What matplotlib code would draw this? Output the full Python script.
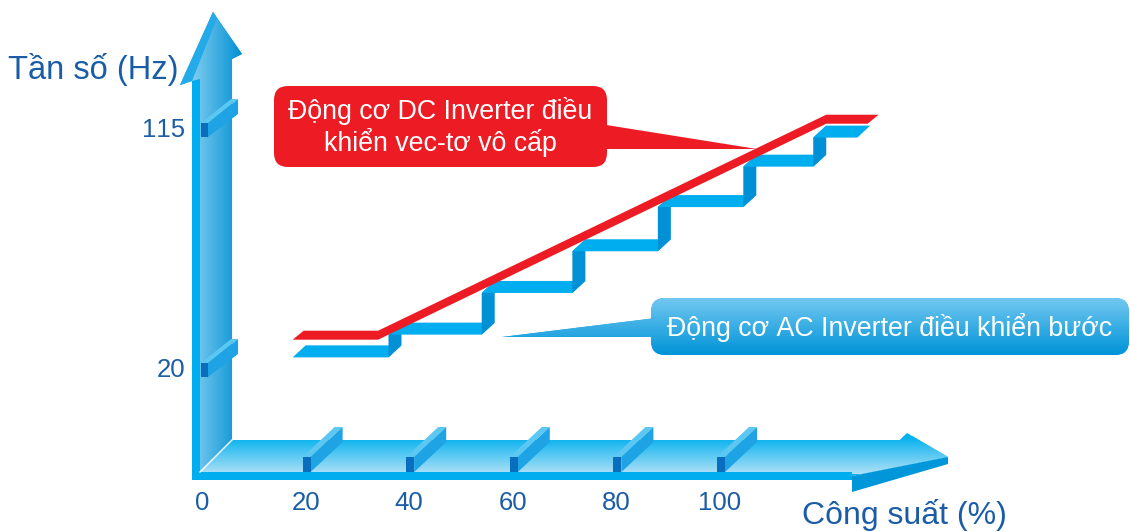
import numpy as np
import matplotlib
matplotlib.use("Agg")
import matplotlib.pyplot as plt
import matplotlib.transforms as mtransforms
from matplotlib.patches import Polygon, FancyBboxPatch
from matplotlib.colors import LinearSegmentedColormap

plt.rcParams['font.family'] = ['Liberation Sans', 'DejaVu Sans']
plt.rcParams['text.kerning_factor'] = 6  # gan nhu bo kerning ("115")

# du lieu
x_ticks = [0, 20, 40, 60, 80, 100]
y_ticks = [20, 115]
x_title = "Công suất (%)"
y_title = "Tần số (Hz)"

# AC inverter: tung bac (cong suat %, tan so Hz)
ac_edges = [17.5, 36, 54, 71.5, 88, 104.5, 118, 126.5]
ac_levels = [25, 34, 50.5, 67, 84.5, 100.5, 112]

# DC inverter: lien tuc
dc_power = [17.5, 34, 120.5, 128.5]
dc_freq = [32, 32, 117.5, 117.5]

dc_label = "Động cơ DC Inverter điều\nkhiển vec-tơ vô cấp"
ac_label = "Động cơ AC Inverter điều khiển bước"

W, H, DPI = 1130, 532, 100
X0, SX = 202, 5.18      # pixel cua x=0, pixel / %
Y20, SY = 370, 2.526    # pixel cua y=20, pixel / Hz

RED = '#ED1C24'
TREAD = '#00AEEF'
RISER = '#0090D5'
TXT = '#1A5DA6'

fig = plt.figure(figsize=(W / DPI, H / DPI), dpi=DPI)
ax = fig.add_axes([0, 0, 1, 1])
ax.axis('off')

pix = mtransforms.Affine2D().scale(1 / DPI, -1 / DPI).translate(0, H / DPI) + fig.dpi_scale_trans
x_pix = mtransforms.blended_transform_factory(ax.transData, pix)
pix_y = mtransforms.blended_transform_factory(pix, ax.transData)


def set_limits():
    ax.set_xlim(-X0 / SX, (W - X0) / SX)
    ax.set_ylim(20 - (H - Y20) / SY, 20 + Y20 / SY)


set_limits()


def poly(pts, color, tr=pix, z=2):
    p = Polygon(pts, closed=True, facecolor=color, edgecolor='none', transform=tr, zorder=z)
    ax.add_patch(p)
    return p


def to_data(px, py):
    return (px - X0) / SX, 20 + (Y20 - py) / SY


def grad(clip, x0, x1, y0, y1, c0, c1, horiz=False, z=2):
    cmap = LinearSegmentedColormap.from_list('g', [c0, c1])
    v = np.linspace(0, 1, 256)
    arr = v[None, :] if horiz else v[:, None]
    l, t = to_data(x0, y0)
    r, b = to_data(x1, y1)
    im = ax.imshow(arr, cmap=cmap, extent=(l, r, b, t), origin='upper',
                   aspect='auto', interpolation='bilinear', zorder=z)
    im.set_clip_path(clip)


# truc hoanh (mat san)
floor = poly([(200, 472), (232, 440), (900, 440), (907, 433), (948, 457), (852, 476), (852, 472)], '#00B2EE', z=1)
grad(floor, 200, 948, 436, 474, '#00B0EE', '#B0E1F7', z=1)
poly([(192, 472), (852, 472), (852, 480), (192, 480)], '#00AEEF', z=1)
poly([(948, 457), (948, 464), (852, 492), (852, 476)], '#0096DA', z=1)

# truc tung
shaft = poly([(192, 480), (192, 81), (180, 85), (213, 12), (242, 54), (232, 59),
              (232, 440), (200, 472), (200, 480)], '#00A0E0', z=1)
grad(shaft, 182, 242, 10, 480, '#9AD9F6', '#0090D3', horiz=True, z=1)
poly([(192, 480), (192, 81), (200, 79), (200, 480)], '#00AEEF', z=1)
poly([(180, 85), (213, 12), (217, 18), (192, 81)], '#22AAE9', z=1)
ax.plot([200, 232], [472, 440], color='white', lw=1, transform=pix, zorder=1)

# vach chia truc hoanh
for t in x_ticks:
    if t > 0:
        poly([(t - 3 / SX, 457), (t + 5 / SX, 457), (t + 37 / SX, 427), (t + 29 / SX, 427)], '#5CC8F2', tr=x_pix, z=3)
        poly([(t + 5 / SX, 457), (t + 5 / SX, 472), (t + 37 / SX, 442), (t + 37 / SX, 427)], '#1EA3E4', tr=x_pix, z=3)
        poly([(t - 3 / SX, 457), (t + 5 / SX, 457), (t + 5 / SX, 472), (t - 3 / SX, 472)], '#0A6EBE', tr=x_pix, z=3)
    ax.text(t, 503, str(t), transform=x_pix, ha='center', va='center', fontsize=18.5, color=TXT)

# vach chia truc tung
for t in y_ticks:
    poly([(201, t + 7 / SY), (208, t + 7 / SY), (238, t + 31 / SY), (231, t + 31 / SY)], '#5CC8F2', tr=pix_y, z=3)
    poly([(208, t + 7 / SY), (208, t - 7 / SY), (238, t + 16 / SY), (238, t + 31 / SY)], '#1EA3E4', tr=pix_y, z=3)
    poly([(201, t - 7 / SY), (208, t - 7 / SY), (208, t + 7 / SY), (201, t + 7 / SY)], '#0A6EBE', tr=pix_y, z=3)
    ax.text(185, t, str(t), transform=pix_y, ha='right', va='center', fontsize=18.5, color=TXT)

# AC: bac thang
ddx, ddy = 13 / SX, 12 / SY
for i, lvl in enumerate(ac_levels):
    x0, x1 = ac_edges[i], ac_edges[i + 1]
    poly([(x0, lvl), (x1, lvl), (x1 + ddx, lvl + ddy), (x0 + ddx, lvl + ddy)], TREAD, tr=ax.transData, z=4)
    if i + 1 < len(ac_levels):
        nxt = ac_levels[i + 1]
        poly([(x1, lvl), (x1, nxt), (x1 + ddx, nxt + ddy), (x1 + ddx, lvl + ddy)], RISER, tr=ax.transData, z=4)

# DC: duong lien tuc
thick, skew = 9 / SY, 11 / SX
n = len(dc_power)
lower = list(zip(dc_power, dc_freq))
upper = [(x + (skew if i in (0, n - 1) else 0), y + thick) for i, (x, y) in enumerate(lower)]
poly(lower + upper[::-1], RED, tr=ax.transData, z=4)

# chu thich DC
ax.add_patch(FancyBboxPatch((274, 86), 333, 81, boxstyle='round,pad=0,rounding_size=14',
                            fc=RED, ec='none', transform=pix, zorder=5))
poly([(600, 124), (757, 149), (600, 149)], RED, z=5)
ax.text(440, 127, dc_label, transform=pix, ha='center', va='center', color='white',
        fontsize=19.3, linespacing=1.1, zorder=6)

# chu thich AC
box = FancyBboxPatch((651, 298), 478, 57, boxstyle='round,pad=0,rounding_size=14',
                     fc='#2AA8E6', ec='none', transform=pix, zorder=5)
ax.add_patch(box)
grad(box, 651, 1129, 298, 355, '#72C8F0', '#0093D8', z=5)
ptr = poly([(502, 337), (656, 318), (656, 337)], '#1AA5E6', z=5)
grad(ptr, 500, 660, 298, 355, '#72C8F0', '#0093D8', z=5)
ax.text(890, 327, ac_label, transform=pix, ha='center', va='center', color='white',
        fontsize=19.3, zorder=6)

# tieu de truc
ax.text(8, 70, y_title, transform=pix, ha='left', va='center', fontsize=23.5, color=TXT)
ax.text(904, 515, x_title, transform=pix, ha='center', va='center', fontsize=23, color=TXT)

set_limits()
fig.savefig('out.png', dpi=DPI)
